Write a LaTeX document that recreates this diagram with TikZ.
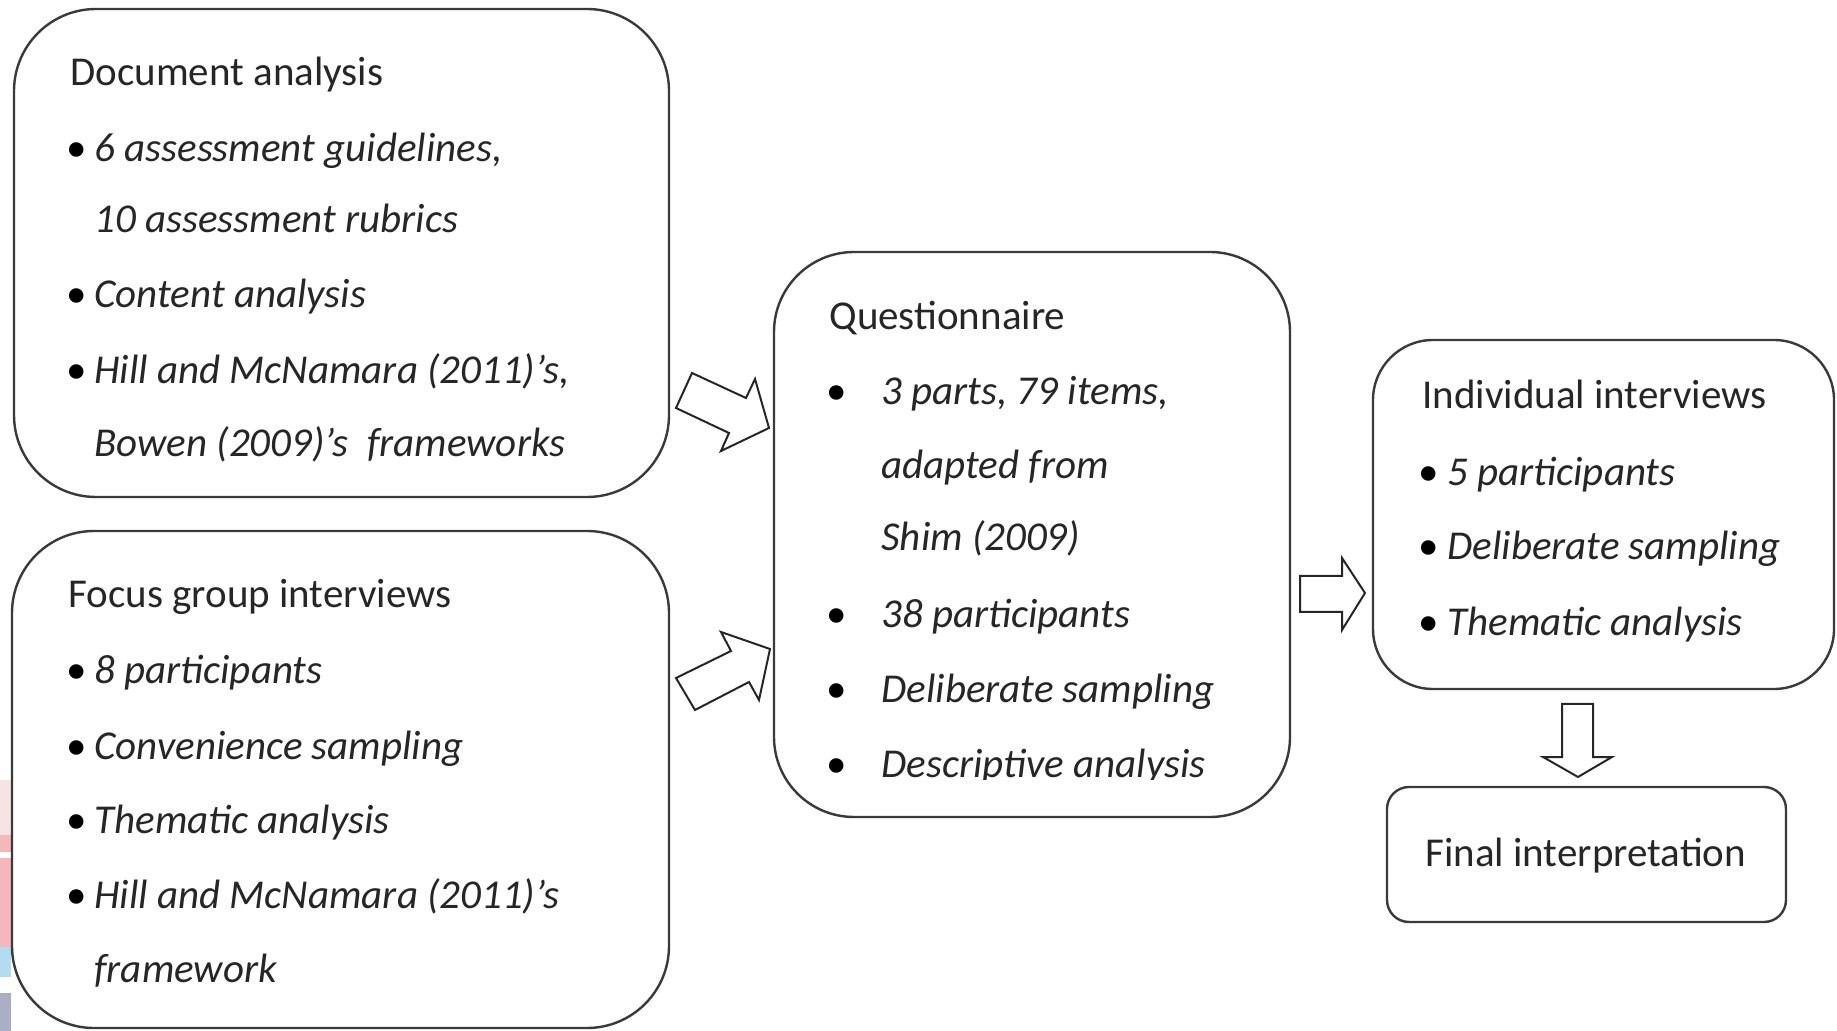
\documentclass[tikz,border=0pt]{standalone}
\usepackage{fontspec}
\setmainfont{Carlito}
\usetikzlibrary{fit}
\definecolor{boxc}{HTML}{3A3A3A}
\definecolor{stripA}{HTML}{F2B8BC}
\definecolor{stripB}{HTML}{B4DCEF}
\definecolor{stripC}{HTML}{A9AFC4}
\definecolor{stripD}{HTML}{F6E4E4}
\begin{document}
\begin{tikzpicture}[x=0.5pt,y=-0.5pt,
  box/.style={draw=boxc, line width=1.2pt, fill=white, inner sep=0pt},
  blockarrow/.style={draw=black!85, line width=1pt, fill=white, line join=miter},
  head/.style={anchor=base west, inner sep=0pt, text=black!85, font=\fontsize{20.5}{24}\selectfont},
  item/.style={anchor=base west, inner sep=0pt, text=black!85, font=\fontsize{20.5}{24}\selectfont\itshape},
  dot/.style={anchor=base, inner sep=0pt, text=black, font=\fontsize{20.5}{24}\selectfont}
]
\useasboundingbox (0,0) rectangle (1837,1031);
% left-edge colour strip
\fill[stripD] (0,780) rectangle (11,835);
\fill[stripA] (0,835) rectangle (11,852);
\fill[stripA] (0,858) rectangle (11,947);
\fill[stripB] (0,947) rectangle (11,977);
\fill[stripC] (0,993) rectangle (11,1031);

% boxes
\node[box, rounded corners=41pt, fit={(14,9) (669,497)}] (doc) {};
\node[box, rounded corners=41pt, fit={(12,531) (669,1028)}] (focus) {};
\node[box, rounded corners=40pt, fit={(774,252) (1290,817)}] (quest) {};
\node[box, rounded corners=30pt, fit={(1373,340) (1834,689)}] (indiv) {};
\node[box, rounded corners=11pt, fit={(1387,787) (1786,922)}] (final) {};

% Document analysis
\node[head] (d0) at (70,86) {Document analysis};
\node[dot] (d1b) at (77,162) {•};
\node[item] (d1) at (94,162) {6 assessment guidelines,};
\node[item] (d2) at (94,233) {10 assessment rubrics};
\node[dot] (d3b) at (77,308) {•};
\node[item] (d3) at (94,308) {Content analysis};
\node[dot] (d4b) at (77,384) {•};
\node[item] (d4) at (94,384) {Hill and McNamara (2011)’s,};
\node[item] (d5) at (94,457) {Bowen (2009)’s\ \ frameworks};

% Focus group interviews
\node[head] (f0) at (68,608) {Focus group interviews};
\node[dot] (f1b) at (77,683) {•};
\node[item] (f1) at (94,683) {8 participants};
\node[dot] (f2b) at (77,759) {•};
\node[item] (f2) at (94,759) {Convenience sampling};
\node[dot] (f3b) at (77,833) {•};
\node[item] (f3) at (94,833) {Thematic analysis};
\node[dot] (f4b) at (77,908) {•};
\node[item] (f4) at (94,908) {Hill and McNamara (2011)’s};
\node[item] (f5) at (94,982) {framework};

% Questionnaire
\node[head] (q0) at (829,330) {Questionnaire};
\node[dot] (q1b) at (837,405) {•};
\node[item] (q1) at (881,405) {3 parts, 79 items,};
\node[item] (q2) at (881,479) {adapted from};
\node[item] (q3) at (881,551) {Shim (2009)};
\node[dot] (q4b) at (837,628) {•};
\node[item] (q4) at (881,628) {38 participants};
\node[dot] (q5b) at (837,703) {•};
\node[item] (q5) at (881,703) {Deliberate sampling};
\node[dot] (q6b) at (837,777) {•};
\begin{scope}
  \clip (860,740) rectangle (1280,779);
  \node[item] (q6) at (881,777) {Descriptive analysis};
\end{scope}

% Individual interviews
\node[head] (i0) at (1422,409) {Individual interviews};
\node[dot] (i1b) at (1429,486) {•};
\node[item] (i1) at (1447,486) {5 participants};
\node[dot] (i2b) at (1429,560) {•};
\node[item] (i2) at (1447,560) {Deliberate sampling};
\node[dot] (i3b) at (1429,636) {•};
\node[item] (i3) at (1447,636) {Thematic analysis};

% Final interpretation
\node[head] (fi) at (1425,866) {Final interpretation};

% block arrows
\draw[blockarrow] (692,373) -- (746,398) -- (755,379) -- (769,428) -- (721,451) -- (729,433) -- (676,408) -- cycle;
\draw[blockarrow] (676,678) -- (731,651) -- (721,632) -- (770,649) -- (759,700) -- (749,682) -- (695,710) -- cycle;
\draw[blockarrow] (1300,576) -- (1342,576) -- (1342,558) -- (1365,593) -- (1342,630) -- (1342,612) -- (1300,612) -- cycle;
\draw[blockarrow] (1562,704) -- (1593,704) -- (1593,757) -- (1612,757) -- (1578,777) -- (1543,757) -- (1562,757) -- cycle;
\end{tikzpicture}
\end{document}
